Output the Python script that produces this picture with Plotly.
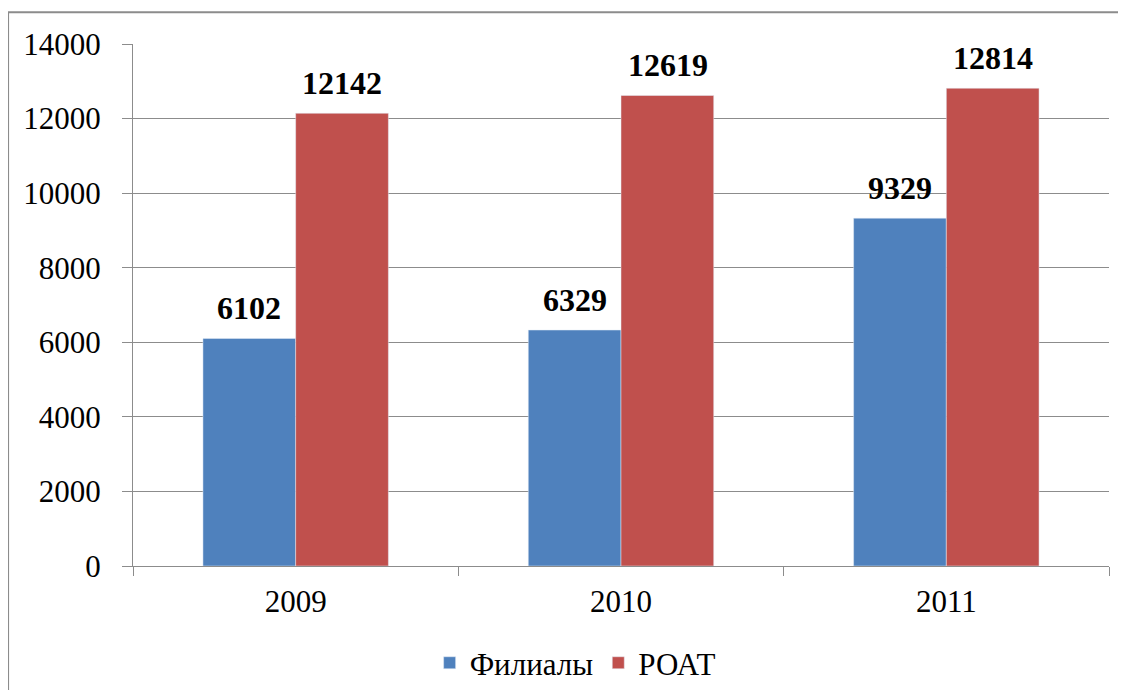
import plotly.graph_objects as go

years = ["2009", "2010", "2011"]
filialy = [6102, 6329, 9329]
roat = [12142, 12619, 12814]

FONT = "Liberation Serif"
GRAY = "#8C8C8C"

fig = go.Figure()

fig.add_trace(go.Bar(x=years, y=filialy, name="Филиалы", marker=dict(color="#4F81BD")))
fig.add_trace(go.Bar(x=years, y=roat, name="РОАТ", marker=dict(color="#C0504D")))

# value labels above the bars (bold, a little higher than plotly's own outside text)
# x given as category index: number-like strings would be read as positions
for vals, shift in ((filialy, -46.5), (roat, 46.5)):
    for i, v in enumerate(vals):
        fig.add_annotation(x=i, y=v, text=str(v), showarrow=False,
                           xshift=shift, yshift=10, yanchor="bottom",
                           font=dict(family=FONT, size=32, color="black", weight="bold"))

# outer chart border: only left and top edges are visible in the source (it is cropped)
fig.add_shape(type="path", xref="paper", yref="paper",
              path="M -0.128,-0.4 L -0.128,1.061 L 1.2,1.061",
              line=dict(color=GRAY, width=2), layer="below")

# figure is a bit smaller than the window so the page's 8px body margin doesn't overflow
fig.update_layout(
    width=1110, height=682,
    margin=dict(l=125, r=9, t=36, b=124, autoexpand=False),
    paper_bgcolor="white", plot_bgcolor="white",
    barmode="group", bargap=0.43, bargroupgap=0,
    font=dict(family=FONT, size=30, color="black"),
    showlegend=True,
    legend=dict(orientation="h", x=0.453, xanchor="center", y=-0.186, yanchor="middle",
                font=dict(family=FONT, size=31, color="black")),
)

fig.update_yaxes(
    range=[0, 14000], dtick=2000, tickformat="d",
    showgrid=True, gridcolor=GRAY, gridwidth=1,
    showline=True, linecolor=GRAY, linewidth=1,
    ticks="outside", ticklen=10, tickcolor=GRAY,
    ticklabelstandoff=15, zeroline=False, automargin=False,
    tickfont=dict(family=FONT, size=31, color="black"),
)
fig.update_xaxes(
    type="category", range=[-0.5, 2.5],
    showline=True, linecolor=GRAY, linewidth=1,
    ticks="outside", ticklen=9, tickcolor=GRAY, tickson="boundaries",
    ticklabelstandoff=8, automargin=False, tickangle=0,
    tickfont=dict(family=FONT, size=31, color="black"),
)

fig.write_html("out.html")
